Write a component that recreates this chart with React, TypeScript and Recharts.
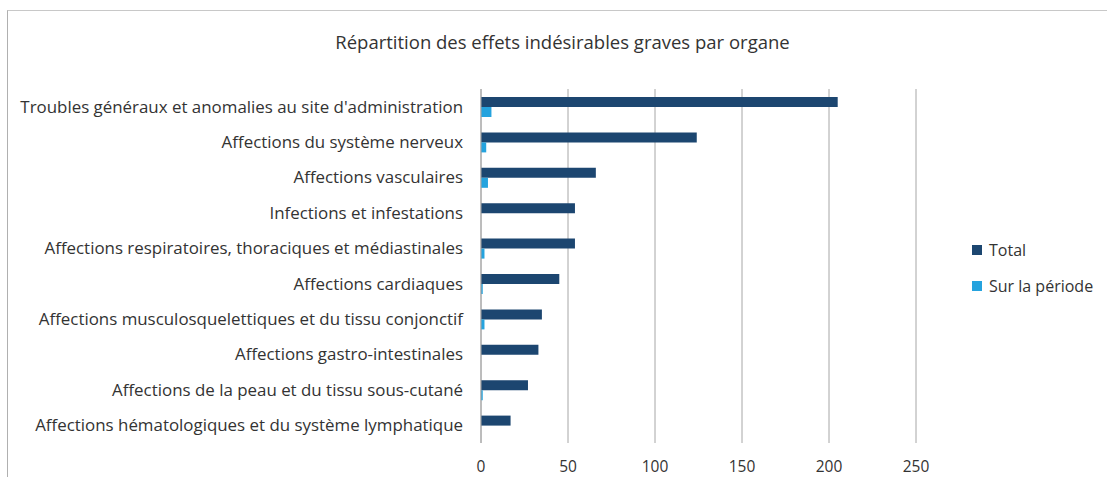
import React from 'react';
import { BarChart, Bar, XAxis, YAxis, CartesianGrid, Legend } from 'recharts';

const categories = [
  "Troubles généraux et anomalies au site d'administration",
  'Affections du système nerveux',
  'Affections vasculaires',
  'Infections et infestations',
  'Affections respiratoires, thoraciques et médiastinales',
  'Affections cardiaques',
  'Affections musculosquelettiques et du tissu conjonctif',
  'Affections gastro-intestinales',
  'Affections de la peau et du tissu sous-cutané',
  'Affections hématologiques et du système lymphatique',
];
const totalValues = [205, 124, 66, 54, 54, 45, 35, 33, 27, 17];
const periodValues = [6, 3, 4, 0, 2, 1, 2, 0, 1, 0];
const xTicks = [0, 50, 100, 150, 200, 250];
const seriesNames = ['Total', 'Sur la période'];
const title = 'Répartition des effets indésirables graves par organe';

const data = categories.map((c, i) => ({ name: c, total: totalValues[i], period: periodValues[i] }));

const FONT = '"Open Sans", sans-serif';
const TEXT = '#333333';
const DARK = '#1C4670';
const LIGHT = '#25A3DE';

const renderLegend = (props: any) => {
  const items = [...(props.payload || [])].sort(
    (a: any, b: any) => seriesNames.indexOf(a.value) - seriesNames.indexOf(b.value)
  );
  return (
    <div style={{ fontFamily: FONT, fontSize: 16, color: TEXT }}>
      {items.map((it: any, i: number) => (
        <div key={i} style={{ display: 'flex', alignItems: 'center', height: 36 }}>
          <span style={{ display: 'inline-block', width: 10, height: 10, background: it.color, marginRight: 7 }} />
          <span>{it.value}</span>
        </div>
      ))}
    </div>
  );
};

export default function App() {
  return (
    <div style={{ position: 'fixed', left: 0, top: 0, width: 1107, height: 477, background: '#fff', overflow: 'hidden' }}>
      <div style={{ position: 'absolute', left: 7, top: 10, width: 1200, height: 600, borderTop: '1px solid #c8c8c8', borderLeft: '1px solid #b0b0b0' }} />
      <div style={{ position: 'absolute', left: 0, top: 29, width: 1125, textAlign: 'center', fontFamily: FONT, fontSize: 18.5, color: TEXT }}>
        {title}
      </div>
      <div style={{ position: 'absolute', left: 0, top: 0 }}>
        <BarChart
          width={1107}
          height={477}
          data={data}
          layout="vertical"
          margin={{ top: 89, right: 191, bottom: 4, left: 0 }}
          barGap={0}
          barCategoryGap="22%"
        >
          <CartesianGrid horizontal={false} vertical={true} stroke="#a6a6a6" />
          <XAxis
            type="number"
            domain={[0, 250]}
            ticks={xTicks}
            height={30}
            axisLine={false}
            tickLine={false}
            tickSize={0}
            tickMargin={18}
            tick={{ fontFamily: FONT, fontSize: 15.5, fill: TEXT }}
          />
          <YAxis
            type="category"
            dataKey="name"
            width={481}
            axisLine={{ stroke: '#a6a6a6' }}
            tickLine={false}
            tickSize={0}
            tickMargin={18}
            interval={0}
            tick={{ fontFamily: FONT, fontSize: 16.9, fill: TEXT }}
          />
          <Legend
            layout="vertical"
            align="center"
            verticalAlign="middle"
            content={renderLegend}
            wrapperStyle={{ position: 'absolute', left: 972, top: 232, width: 135 }}
          />
          <Bar dataKey="total" name={seriesNames[0]} fill={DARK} barSize={10} isAnimationActive={false} />
          <Bar dataKey="period" name={seriesNames[1]} fill={LIGHT} barSize={10} isAnimationActive={false} />
        </BarChart>
      </div>
    </div>
  );
}
